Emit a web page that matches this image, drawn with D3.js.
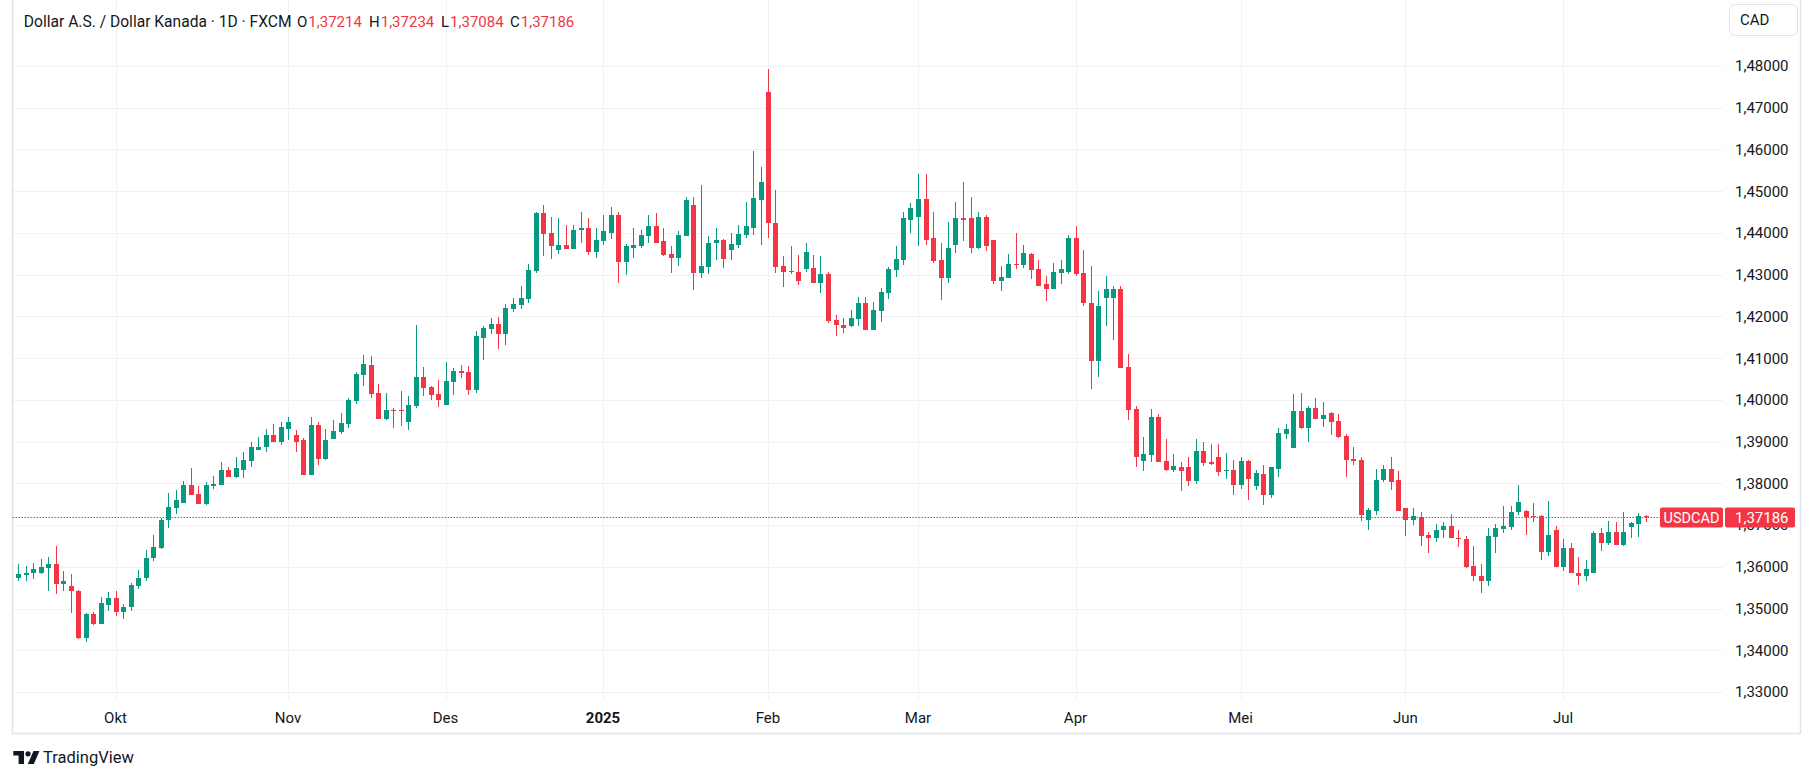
<!DOCTYPE html>
<html>
<head>
<meta charset="utf-8">
<script src="https://cdn.jsdelivr.net/npm/d3@7"></script>
<style>
  html, body { margin: 0; padding: 0; background: #ffffff; }
  svg { display: block; font-family: Roboto, "Noto Sans", sans-serif; }
</style>
</head>
<body>
<svg width="1802" height="778"></svg>
<script>
const svg = d3.select("svg");

// Trading days start here; FXCM had no daily bar on these dates
const startDate = "2024-09-12";
const holidays = ["2024-12-25", "2025-01-01"];
const barCount = 218;

// Daily candles, [open, high, low, close]
const candles = [
  [1.3574,1.3607,1.3567,1.3582],[1.3581,1.3602,1.3567,1.3586],[1.3586,1.3610,1.3570,1.3595],[1.3586,1.3619,1.3582,1.3600],
  [1.3598,1.3624,1.3543,1.3607],[1.3607,1.3650,1.3536,1.3558],[1.3558,1.3590,1.3543,1.3566],[1.3555,1.3583,1.3490,1.3541],
  [1.3543,1.3545,1.3428,1.3430],[1.3430,1.3490,1.3421,1.3488],[1.3488,1.3492,1.3460,1.3464],[1.3464,1.3528,1.3462,1.3514],
  [1.3508,1.3540,1.3493,1.3526],[1.3526,1.3543,1.3483,1.3491],[1.3491,1.3511,1.3474,1.3504],[1.3503,1.3562,1.3493,1.3557],
  [1.3555,1.3593,1.3548,1.3574],[1.3572,1.3641,1.3567,1.3621],[1.3620,1.3676,1.3613,1.3648],[1.3645,1.3717,1.3643,1.3712],
  [1.3711,1.3777,1.3694,1.3743],[1.3742,1.3784,1.3727,1.3760],[1.3754,1.3806,1.3754,1.3796],[1.3796,1.3836,1.3773,1.3773],
  [1.3774,1.3794,1.3751,1.3751],[1.3751,1.3803,1.3747,1.3796],[1.3794,1.3818,1.3787,1.3799],[1.3796,1.3850,1.3796,1.3831],
  [1.3831,1.3838,1.3814,1.3814],[1.3814,1.3862,1.3812,1.3836],[1.3833,1.3876,1.3812,1.3855],[1.3853,1.3898,1.3838,1.3888],
  [1.3879,1.3910,1.3879,1.3888],[1.3886,1.3929,1.3876,1.3915],[1.3915,1.3941,1.3898,1.3900],[1.3900,1.3946,1.3891,1.3934],
  [1.3931,1.3960,1.3903,1.3946],[1.3917,1.3927,1.3874,1.3900],[1.3903,1.3908,1.3821,1.3821],[1.3821,1.3960,1.3819,1.3939],
  [1.3939,1.3948,1.3843,1.3859],[1.3858,1.3930,1.3856,1.3904],[1.3907,1.3952,1.3907,1.3925],[1.3923,1.3968,1.3918,1.3944],
  [1.3942,1.4004,1.3932,1.3999],[1.3997,1.4067,1.3990,1.4062],[1.4059,1.4107,1.4033,1.4086],[1.4083,1.4105,1.4004,1.4014],
  [1.4016,1.4038,1.3954,1.3954],[1.3954,1.4016,1.3951,1.3975],[1.3975,1.3980,1.3932,1.3974],[1.3975,1.4021,1.3937,1.3974],
  [1.3947,1.4009,1.3928,1.3987],[1.3985,1.4179,1.3980,1.4055],[1.4055,1.4079,1.4009,1.4028],[1.4031,1.4033,1.3999,1.4011],
  [1.4014,1.4047,1.3983,1.3999],[1.3987,1.4091,1.3987,1.4045],[1.4043,1.4076,1.4011,1.4069],[1.4069,1.4083,1.4052,1.4064],
  [1.4067,1.4081,1.4011,1.4023],[1.4023,1.4165,1.4016,1.4153],[1.4148,1.4177,1.4095,1.4172],[1.4170,1.4196,1.4158,1.4182],
  [1.4182,1.4198,1.4122,1.4158],[1.4158,1.4230,1.4131,1.4220],[1.4218,1.4245,1.4210,1.4230],[1.4228,1.4272,1.4218,1.4244],
  [1.4242,1.4325,1.4233,1.4311],[1.4308,1.4449,1.4303,1.4447],[1.4447,1.4468,1.4344,1.4397],[1.4399,1.4437,1.4337,1.4368],
  [1.4358,1.4435,1.4349,1.4370],[1.4370,1.4420,1.4361,1.4361],[1.4361,1.4420,1.4361,1.4408],[1.4407,1.4449,1.4375,1.4411],
  [1.4413,1.4435,1.4346,1.4354],[1.4354,1.4411,1.4339,1.4382],[1.4380,1.4442,1.4370,1.4404],[1.4401,1.4463,1.4385,1.4442],
  [1.4442,1.4449,1.4280,1.4330],[1.4330,1.4373,1.4299,1.4368],[1.4365,1.4411,1.4339,1.4370],[1.4368,1.4406,1.4365,1.4394],
  [1.4392,1.4444,1.4375,1.4416],[1.4416,1.4447,1.4375,1.4377],[1.4380,1.4411,1.4344,1.4346],[1.4349,1.4368,1.4303,1.4339],
  [1.4339,1.4404,1.4320,1.4394],[1.4392,1.4485,1.4392,1.4478],[1.4466,1.4487,1.4263,1.4303],[1.4303,1.4516,1.4291,1.4320],
  [1.4318,1.4392,1.4301,1.4377],[1.4375,1.4413,1.4334,1.4382],[1.4382,1.4385,1.4315,1.4337],[1.4358,1.4401,1.4334,1.4373],
  [1.4370,1.4420,1.4365,1.4397],[1.4394,1.4473,1.4389,1.4416],[1.4413,1.4597,1.4394,1.4483],[1.4480,1.4559,1.4370,1.4523],
  [1.4738,1.4793,1.4389,1.4423],[1.4425,1.4504,1.4303,1.4318],[1.4320,1.4344,1.4270,1.4306],[1.4308,1.4368,1.4301,1.4306],
  [1.4306,1.4346,1.4275,1.4284],[1.4313,1.4377,1.4306,1.4354],[1.4315,1.4346,1.4280,1.4280],[1.4280,1.4344,1.4256,1.4301],
  [1.4301,1.4306,1.4184,1.4189],[1.4191,1.4203,1.4153,1.4179],[1.4179,1.4196,1.4160,1.4172],[1.4177,1.4215,1.4174,1.4196],
  [1.4194,1.4246,1.4178,1.4232],[1.4232,1.4246,1.4167,1.4167],[1.4167,1.4234,1.4167,1.4215],[1.4213,1.4268,1.4186,1.4258],
  [1.4255,1.4318,1.4241,1.4313],[1.4310,1.4368,1.4294,1.4337],[1.4334,1.4449,1.4322,1.4435],[1.4432,1.4471,1.4401,1.4459],
  [1.4437,1.4542,1.4368,1.4482],[1.4482,1.4542,1.4370,1.4384],[1.4387,1.4449,1.4329,1.4332],[1.4334,1.4377,1.4239,1.4291],
  [1.4291,1.4427,1.4279,1.4363],[1.4370,1.4473,1.4353,1.4435],[1.4435,1.4521,1.4380,1.4432],[1.4435,1.4485,1.4353,1.4365],
  [1.4365,1.4451,1.4361,1.4437],[1.4437,1.4444,1.4356,1.4368],[1.4384,1.4384,1.4277,1.4286],[1.4286,1.4320,1.4260,1.4294],
  [1.4291,1.4349,1.4291,1.4325],[1.4325,1.4401,1.4313,1.4322],[1.4322,1.4372,1.4315,1.4351],[1.4349,1.4351,1.4289,1.4310],
  [1.4313,1.4334,1.4272,1.4274],[1.4277,1.4298,1.4236,1.4265],[1.4265,1.4329,1.4265,1.4306],[1.4303,1.4334,1.4277,1.4313],
  [1.4306,1.4396,1.4301,1.4387],[1.4387,1.4416,1.4298,1.4301],[1.4303,1.4360,1.4226,1.4231],[1.4233,1.4320,1.4025,1.4092],
  [1.4092,1.4260,1.4054,1.4226],[1.4245,1.4296,1.4176,1.4265],[1.4245,1.4272,1.4143,1.4265],[1.4265,1.4274,1.4076,1.4076],
  [1.4078,1.4111,1.3951,1.3975],[1.3978,1.3985,1.3839,1.3863],[1.3853,1.3911,1.3829,1.3870],[1.3868,1.3978,1.3851,1.3958],
  [1.3958,1.3966,1.3851,1.3851],[1.3853,1.3906,1.3829,1.3832],[1.3832,1.3870,1.3827,1.3841],[1.3839,1.3851,1.3782,1.3829],
  [1.3839,1.3863,1.3793,1.3805],[1.3805,1.3906,1.3798,1.3877],[1.3877,1.3899,1.3841,1.3848],[1.3851,1.3894,1.3844,1.3846],
  [1.3863,1.3894,1.3817,1.3827],[1.3829,1.3872,1.3810,1.3832],[1.3832,1.3856,1.3772,1.3796],[1.3796,1.3863,1.3786,1.3853],
  [1.3853,1.3856,1.3759,1.3810],[1.3793,1.3832,1.3785,1.3825],[1.3823,1.3845,1.3749,1.3773],[1.3773,1.3838,1.3764,1.3838],
  [1.3835,1.3933,1.3814,1.3921],[1.3919,1.3943,1.3907,1.3931],[1.3885,1.4014,1.3885,1.3974],[1.3974,1.4017,1.3931,1.3933],
  [1.3933,1.3986,1.3900,1.3981],[1.3981,1.4005,1.3955,1.3955],[1.3955,1.3995,1.3936,1.3964],[1.3969,1.3971,1.3916,1.3947],
  [1.3950,1.3967,1.3909,1.3912],[1.3914,1.3919,1.3814,1.3857],[1.3859,1.3888,1.3845,1.3854],[1.3857,1.3862,1.3709,1.3725],
  [1.3711,1.3740,1.3687,1.3735],[1.3733,1.3835,1.3723,1.3809],[1.3807,1.3845,1.3802,1.3835],[1.3835,1.3862,1.3785,1.3804],
  [1.3807,1.3830,1.3733,1.3733],[1.3740,1.3740,1.3675,1.3711],[1.3711,1.3742,1.3700,1.3721],[1.3719,1.3731,1.3651,1.3675],
  [1.3677,1.3684,1.3634,1.3670],[1.3670,1.3703,1.3660,1.3688],[1.3687,1.3707,1.3670,1.3698],[1.3698,1.3727,1.3668,1.3668],
  [1.3670,1.3688,1.3648,1.3668],[1.3667,1.3674,1.3598,1.3600],[1.3602,1.3650,1.3565,1.3577],[1.3578,1.3607,1.3538,1.3567],
  [1.3567,1.3693,1.3555,1.3674],[1.3672,1.3703,1.3634,1.3693],[1.3691,1.3746,1.3682,1.3698],[1.3696,1.3746,1.3687,1.3731],
  [1.3731,1.3796,1.3724,1.3755],[1.3734,1.3736,1.3677,1.3720],[1.3722,1.3753,1.3707,1.3720],[1.3722,1.3724,1.3617,1.3636],
  [1.3636,1.3758,1.3627,1.3676],[1.3688,1.3698,1.3600,1.3600],[1.3600,1.3667,1.3591,1.3645],[1.3645,1.3657,1.3584,1.3584],
  [1.3586,1.3624,1.3557,1.3579],[1.3579,1.3616,1.3567,1.3595],[1.3584,1.3686,1.3584,1.3681],[1.3681,1.3693,1.3639,1.3658],
  [1.3658,1.3710,1.3653,1.3684],[1.3684,1.3707,1.3653,1.3653],[1.3653,1.3731,1.3651,1.3684],[1.3696,1.3707,1.3670,1.3705],
  [1.3703,1.3729,1.3672,1.3722],[1.37214,1.37234,1.37084,1.37186]
];

// Axis ticks
const priceTicks = [1.33, 1.34, 1.35, 1.36, 1.37, 1.38, 1.39, 1.40, 1.41, 1.42, 1.43, 1.44, 1.45, 1.46, 1.47, 1.48];
const monthKeys = ["2024-10", "2024-11", "2024-12", "2025-01", "2025-02", "2025-03", "2025-04", "2025-05", "2025-06", "2025-07"];
const monthLabels = ["Okt", "Nov", "Des", "2025", "Feb", "Mar", "Apr", "Mei", "Jun", "Jul"];

const symbol = "USDCAD";
const title = "Dollar A.S. / Dollar Kanada \u00b7 1D \u00b7 FXCM";
const lastBar = candles[candles.length - 1];

const UP = "#089981", DOWN = "#f23645";
const GRID = "#f0f2f5", BORDER = "#e0e3eb", TEXT = "#131722";

// Build the list of trading days
const fmtDay = d3.utcFormat("%Y-%m-%d");
const dates = [];
for (let d = new Date(startDate + "T00:00:00Z"); dates.length < barCount; d = d3.utcDay.offset(d, 1)) {
    const wd = d.getUTCDay();
    if (wd === 0 || wd === 6 || holidays.includes(fmtDay(d))) continue;
    dates.push(new Date(d));
}

// Pane geometry
const paneLeft = 12.5, paneRight = 1723, paneBottom = 700, frameBottom = 733.5, frameRight = 1800.5;

const x = d3.scaleLinear().domain([0, barCount - 1]).range([18, 1645.5]);
const y = d3.scaleLinear().domain([1.33, 1.48]).range([692, 66]);
const fmtPrice = p => p.toFixed(5).replace(".", ",");

// Month ticks: first trading day of every month
const fmtMonth = d3.utcFormat("%Y-%m");
const monthIdx = monthKeys.map(k => dates.findIndex(d => fmtMonth(d) === k));

// Grid
const grid = svg.append("g").attr("shape-rendering", "crispEdges");
grid.selectAll(".hgrid")
    .data(priceTicks)
    .join("line")
    .attr("x1", paneLeft).attr("x2", paneRight)
    .attr("y1", d => Math.round(y(d)) + 0.5).attr("y2", d => Math.round(y(d)) + 0.5)
    .attr("stroke", GRID);
grid.selectAll(".vgrid")
    .data(monthIdx)
    .join("line")
    .attr("x1", d => Math.round(x(d)) + 0.5).attr("x2", d => Math.round(x(d)) + 0.5)
    .attr("y1", 0).attr("y2", paneBottom)
    .attr("stroke", GRID);

// Frame
svg.append("path")
    .attr("d", `M${paneLeft},0 V${frameBottom} H${frameRight} V0`)
    .attr("fill", "none")
    .attr("stroke", BORDER)
    .attr("stroke-width", 1.5);

// Candles
const bars = svg.append("g").attr("shape-rendering", "crispEdges");
const candle = bars.selectAll(".candle")
    .data(candles)
    .join("g")
    .attr("fill", d => d[3] >= d[0] ? UP : DOWN);

candle.append("rect")
    .attr("x", (d, i) => Math.round(x(i)))
    .attr("width", 1)
    .attr("y", d => y(d[1]))
    .attr("height", d => Math.max(1, y(d[2]) - y(d[1])));

candle.append("rect")
    .attr("x", (d, i) => Math.round(x(i)) - 2)
    .attr("width", 5)
    .attr("y", d => y(Math.max(d[0], d[3])))
    .attr("height", d => Math.max(1, Math.abs(y(d[0]) - y(d[3]))));

// Last price line
const lastY = Math.round(y(lastBar[3])) + 0.5;
svg.append("line")
    .attr("x1", paneLeft).attr("x2", 1660)
    .attr("y1", lastY).attr("y2", lastY)
    .attr("stroke", DOWN)
    .attr("stroke-width", 1.2)
    .attr("stroke-dasharray", "1.5,1.5");

// Price axis labels
svg.append("g")
    .selectAll("text")
    .data(priceTicks)
    .join("text")
    .attr("x", 1735)
    .attr("y", d => y(d))
    .attr("dy", "0.36em")
    .attr("font-size", 15)
    .attr("fill", TEXT)
    .text(fmtPrice);

// Time axis labels
svg.append("g")
    .selectAll("text")
    .data(monthIdx)
    .join("text")
    .attr("x", d => x(d))
    .attr("y", 723)
    .attr("text-anchor", "middle")
    .attr("font-size", 15)
    .attr("font-weight", (d, i) => monthLabels[i] === "2025" ? "bold" : "normal")
    .attr("fill", TEXT)
    .text((d, i) => monthLabels[i]);

// Symbol + last price tags
svg.append("rect")
    .attr("x", 1660).attr("y", lastY - 10).attr("width", 63).attr("height", 20)
    .attr("rx", 2).attr("fill", DOWN);
svg.append("text")
    .attr("x", 1691.5).attr("y", lastY).attr("dy", "0.36em")
    .attr("text-anchor", "middle").attr("font-size", 14.5).attr("fill", "#fff")
    .text(symbol);
svg.append("rect")
    .attr("x", 1725).attr("y", lastY - 10).attr("width", 70).attr("height", 20)
    .attr("rx", 2).attr("fill", DOWN);
svg.append("text")
    .attr("x", 1735).attr("y", lastY).attr("dy", "0.36em")
    .attr("font-size", 15).attr("fill", "#fff")
    .text(fmtPrice(lastBar[3]));

// Currency button
svg.append("rect")
    .attr("x", 1729.5).attr("y", 4.5).attr("width", 68).attr("height", 31)
    .attr("rx", 5).attr("fill", "#fff").attr("stroke", BORDER);
svg.append("text")
    .attr("x", 1740).attr("y", 20).attr("dy", "0.36em")
    .attr("font-size", 15).attr("fill", TEXT)
    .text("CAD");

// Header legend
const legend = svg.append("text")
    .attr("y", 27)
    .attr("font-size", 15)
    .attr("fill", TEXT);
legend.append("tspan").attr("x", 23.8).attr("font-size", 15.6).text(title);
const ohlcKeys = ["O", "H", "L", "C"];
const ohlcVals = [lastBar[0], lastBar[1], lastBar[2], lastBar[3]];
const keyX = [297, 369, 441, 510];
ohlcKeys.forEach((k, i) => {
    legend.append("tspan").attr("x", keyX[i]).text(k);
    legend.append("tspan").attr("fill", DOWN).attr("dx", 1).text(fmtPrice(ohlcVals[i]));
});

// TradingView logo
const logo = svg.append("g").attr("fill", TEXT);
logo.append("path").attr("d", "M13.3,751 H24 V764 H18.6 V755.6 H13.3 Z");
logo.append("circle").attr("cx", 28).attr("cy", 753.8).attr("r", 2.6);
logo.append("path").attr("d", "M33.5,751 H39.5 L33.8,764 H27.8 Z");
svg.append("text")
    .attr("x", 43).attr("y", 763)
    .attr("font-size", 16.5)
    .attr("fill", TEXT)
    .text("TradingView");
</script>
</body>
</html>
